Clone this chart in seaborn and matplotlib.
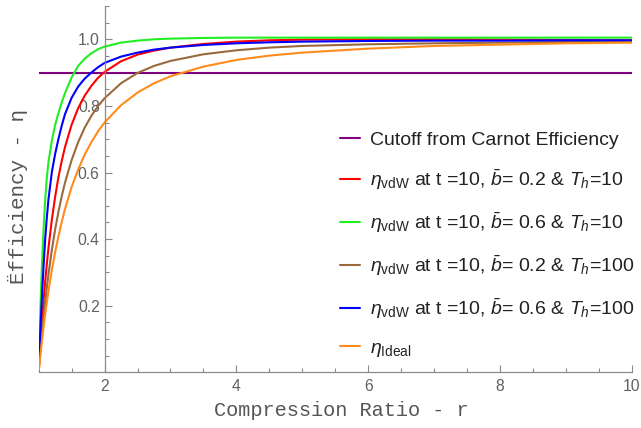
import numpy as np
import pandas as pd
import matplotlib
matplotlib.use("Agg")
import matplotlib.pyplot as plt
import seaborn as sns
from matplotlib.ticker import MultipleLocator, FixedLocator

# ---------------- data ----------------
r = [1.0, 1.01, 1.025, 1.05, 1.075, 1.1, 1.125, 1.15, 1.2, 1.25, 1.3, 1.35, 1.4,
     1.5, 1.6, 1.7, 1.8, 1.9, 2.0, 2.25, 2.5, 2.75, 3.0, 3.5, 4.0, 4.5, 5.0,
     6.0, 7.0, 8.0, 9.0, 10.0]

eta_red = [0.0, 0.033, 0.079, 0.151, 0.215, 0.273, 0.326, 0.374, 0.457, 0.526,
           0.585, 0.634, 0.676, 0.743, 0.793, 0.831, 0.86, 0.884, 0.902, 0.934,
           0.954, 0.966, 0.975, 0.986, 0.993, 0.997, 0.999, 1.0, 1.0, 0.999,
           0.998, 0.997]
eta_green = [0.0, 0.08, 0.18, 0.32, 0.43, 0.52, 0.585, 0.632, 0.695, 0.742,
             0.778, 0.81, 0.838, 0.885, 0.92, 0.942, 0.958, 0.97, 0.978, 0.99,
             0.996, 1.0, 1.002, 1.004, 1.005, 1.005, 1.005, 1.005, 1.005, 1.005,
             1.005, 1.005]
eta_brown = [0.0, 0.0246, 0.06, 0.115, 0.165, 0.212, 0.255, 0.295, 0.366, 0.428,
             0.481, 0.528, 0.569, 0.637, 0.691, 0.735, 0.77, 0.799, 0.823, 0.868,
             0.899, 0.92, 0.935, 0.955, 0.967, 0.975, 0.98, 0.985, 0.988, 0.99,
             0.992, 0.993]
eta_blue = [0.0, 0.05, 0.12, 0.225, 0.318, 0.40, 0.465, 0.52, 0.60, 0.655, 0.70,
            0.74, 0.775, 0.824, 0.858, 0.882, 0.90, 0.916, 0.929, 0.948, 0.96,
            0.969, 0.975, 0.983, 0.988, 0.991, 0.993, 0.995, 0.996, 0.996,
            0.997, 0.997]
eta_ideal = [0.0, 0.0197, 0.048, 0.093, 0.135, 0.174, 0.21, 0.244, 0.306, 0.36,
             0.408, 0.451, 0.49, 0.556, 0.609, 0.654, 0.691, 0.723, 0.75, 0.802,
             0.84, 0.868, 0.889, 0.918, 0.938, 0.951, 0.96, 0.972, 0.98, 0.984,
             0.988, 0.99]

cutoff_r = [1.0, 10.0]
cutoff_eta = [0.9, 0.9]

labels = [
    "Cutoff from Carnot Efficiency",
    r"$\eta_{\mathrm{vdW}}$ at t =10, $\bar{b}$= 0.2 & $T_h$=10",
    r"$\eta_{\mathrm{vdW}}$ at t =10, $\bar{b}$= 0.6 & $T_h$=10",
    r"$\eta_{\mathrm{vdW}}$ at t =10, $\bar{b}$= 0.2 & $T_h$=100",
    r"$\eta_{\mathrm{vdW}}$ at t =10, $\bar{b}$= 0.6 & $T_h$=100",
    r"$\eta_{\mathrm{Ideal}}$",
]
colors = ["#800080", "#FF0000", "#22EE22", "#9A6A3C", "#0000FF", "#FF8C1A"]

xticks = [2, 4, 6, 8, 10]
yticks = [0.2, 0.4, 0.6, 0.8, 1.0]

# ---------------- long table ----------------
frames = [pd.DataFrame({"r": cutoff_r, "eta": cutoff_eta, "series": labels[0]})]
for lab, ys in zip(labels[1:], [eta_red, eta_green, eta_brown, eta_blue, eta_ideal]):
    frames.append(pd.DataFrame({"r": r, "eta": ys, "series": lab}))
df = pd.concat(frames, ignore_index=True)

# ---------------- style ----------------
sns.set_style("white")
plt.rcParams["font.family"] = ["Liberation Sans", "DejaVu Sans"]
plt.rcParams["mathtext.fontset"] = "custom"
plt.rcParams["mathtext.rm"] = "Liberation Sans"
plt.rcParams["mathtext.it"] = "Liberation Sans:italic"
plt.rcParams["mathtext.bf"] = "Liberation Sans:bold"

W, H = 641, 428
fig = plt.figure(figsize=(W / 100, H / 100), dpi=100)
x0, x1 = 38.6, 632.0
y0, y1 = 372.3, 6.0
ax = fig.add_axes([x0 / W, (H - y0) / H, (x1 - x0) / W, (y0 - y1) / H])

sns.lineplot(data=df, x="r", y="eta", hue="series", hue_order=labels,
             palette=colors, sort=False, estimator=None, linewidth=1.5,
             legend=False, ax=ax)
for ln in ax.get_lines():
    ln.set_solid_joinstyle("round")

ax.set_xlim(1, 10)
ax.set_ylim(0, 1.1)

axis_gray = "#8a8a8a"
for s in ["top", "right"]:
    ax.spines[s].set_visible(False)
ax.spines["left"].set_position(("data", 2))
for s in ["left", "bottom"]:
    ax.spines[s].set_color(axis_gray)
    ax.spines[s].set_linewidth(0.9)

ax.xaxis.set_major_locator(FixedLocator(xticks))
ax.xaxis.set_minor_locator(MultipleLocator(0.5))
ax.yaxis.set_major_locator(FixedLocator(yticks))
ax.yaxis.set_minor_locator(MultipleLocator(0.05))
ax.set_xticklabels([str(v) for v in xticks])
ax.set_yticklabels([f"{v:.1f}" for v in yticks])
ax.tick_params(axis="both", which="both", direction="in", color=axis_gray,
               labelcolor="#606060", labelsize=11.3, width=0.8,
               bottom=True, left=True, top=False, right=False)
ax.tick_params(axis="both", which="major", length=5)
ax.tick_params(axis="both", which="minor", length=3)
ax.tick_params(axis="x", which="major", pad=5)
ax.tick_params(axis="y", which="major", pad=3.5)

ax.set_xlabel("")
ax.set_ylabel("")
fig.text(341 / W, 1 - 411 / H, "Compression Ratio - r", ha="center", va="center",
         family=["Liberation Mono", "DejaVu Sans Mono"], fontsize=14.6, color="#555555")
fig.text(17.5 / W, 1 - 196 / H, "\u00cbfficiency - \u03b7", ha="center", va="center",
         rotation=90, family=["Liberation Mono", "DejaVu Sans Mono"], fontsize=15.0,
         color="#555555")

handles = ax.get_lines()[:len(labels)]
leg = ax.legend(handles, labels, loc="upper left",
                bbox_to_anchor=(340 / W, 1 - 131 / H), bbox_transform=fig.transFigure,
                frameon=False, fontsize=14, handlelength=1.05, handletextpad=0.5,
                labelspacing=0.95, borderpad=0, borderaxespad=0)
for t in leg.get_texts():
    t.set_color("#222222")
for l in leg.get_lines():
    l.set_linewidth(1.5)

fig.savefig("out.png", dpi=100)
